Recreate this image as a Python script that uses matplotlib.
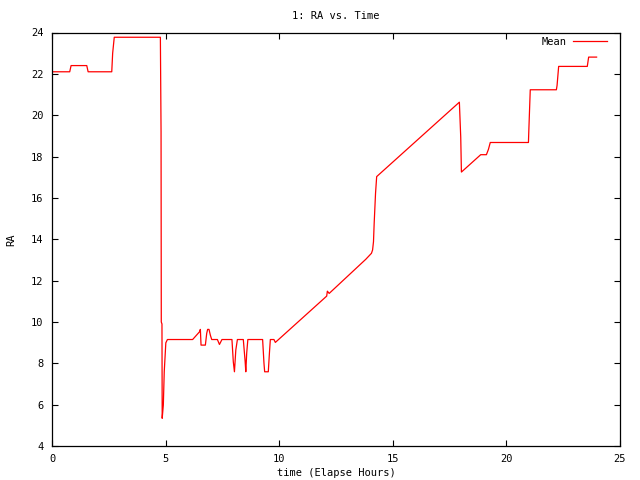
import matplotlib
matplotlib.use("Agg")
import matplotlib.pyplot as plt

# temps (heures) et RA
time_h = [0.0, 0.78, 0.84, 1.53, 1.59, 2.63, 2.67, 2.74, 4.77, 4.80, 4.81, 4.84,
          4.85, 4.90, 4.94, 5.01, 5.08, 6.19, 6.49, 6.53, 6.56, 6.75, 6.81, 6.85,
          6.91, 6.97, 7.03, 7.28, 7.37, 7.48, 7.92, 7.98, 8.03, 8.09, 8.16, 8.42,
          8.50, 8.53, 8.57, 8.62, 9.27, 9.33, 9.36, 9.52, 9.57, 9.61, 9.77, 9.83,
          12.09, 12.12, 12.20, 13.81, 14.06, 14.11, 14.15, 14.18, 14.24, 14.29,
          17.93, 17.99, 18.02, 18.87, 19.12, 19.21, 19.29, 20.97, 20.99, 21.05,
          22.20, 22.23, 22.30, 23.56, 23.62, 23.97]
ra_mean = [22.1, 22.1, 22.4, 22.4, 22.1, 22.1, 23.0, 23.77, 23.77, 19.2, 10.0, 9.9,
           5.34, 5.98, 7.59, 8.99, 9.15, 9.15, 9.52, 9.64, 8.88, 8.88, 9.45, 9.64,
           9.64, 9.36, 9.15, 9.15, 8.91, 9.15, 9.15, 8.07, 7.59, 8.64, 9.15, 9.15,
           8.1, 7.59, 8.5, 9.15, 9.15, 8.0, 7.59, 7.59, 8.5, 9.15, 9.15, 9.01,
           11.25, 11.49, 11.38, 13.03, 13.32, 13.48, 13.88, 14.77, 16.22, 17.03,
           20.63, 18.94, 17.25, 18.09, 18.09, 18.35, 18.68, 18.68, 19.35, 21.23,
           21.23, 21.44, 22.36, 22.36, 22.81, 22.81]

x_ticks = [0, 5, 10, 15, 20, 25]
y_ticks = [4, 6, 8, 10, 12, 14, 16, 18, 20, 22, 24]

plt.rcParams['font.family'] = 'DejaVu Sans Mono'

fig = plt.figure(figsize=(6.4, 4.8), dpi=100)
ax = fig.add_axes([52/640, 34/480, 568/640, 413.5/480])

ax.plot(time_h, ra_mean, color='#ff0000', lw=0.9, label='Mean')

ax.set_xlim(0, 25)
ax.set_ylim(4, 24)
ax.set_xticks(x_ticks)
ax.set_yticks(y_ticks)
ax.tick_params(direction='in', top=True, right=True, length=4, width=0.8,
               labelsize=7.5, pad=6)
for s in ax.spines.values():
    s.set_linewidth(0.9)

ax.set_title('1: RA vs. Time', fontsize=7.5, pad=10)
ax.set_xlabel('time (Elapse Hours)', fontsize=7.5, labelpad=3)
ax.set_ylabel('RA', fontsize=7.5, labelpad=11)

ax.legend(loc='upper right', frameon=False, markerfirst=False, fontsize=7.5,
          handlelength=3.2, borderaxespad=0.5, handletextpad=0.6,
          bbox_to_anchor=(0.993, 1.012))

fig.savefig('out.png', dpi=100)
